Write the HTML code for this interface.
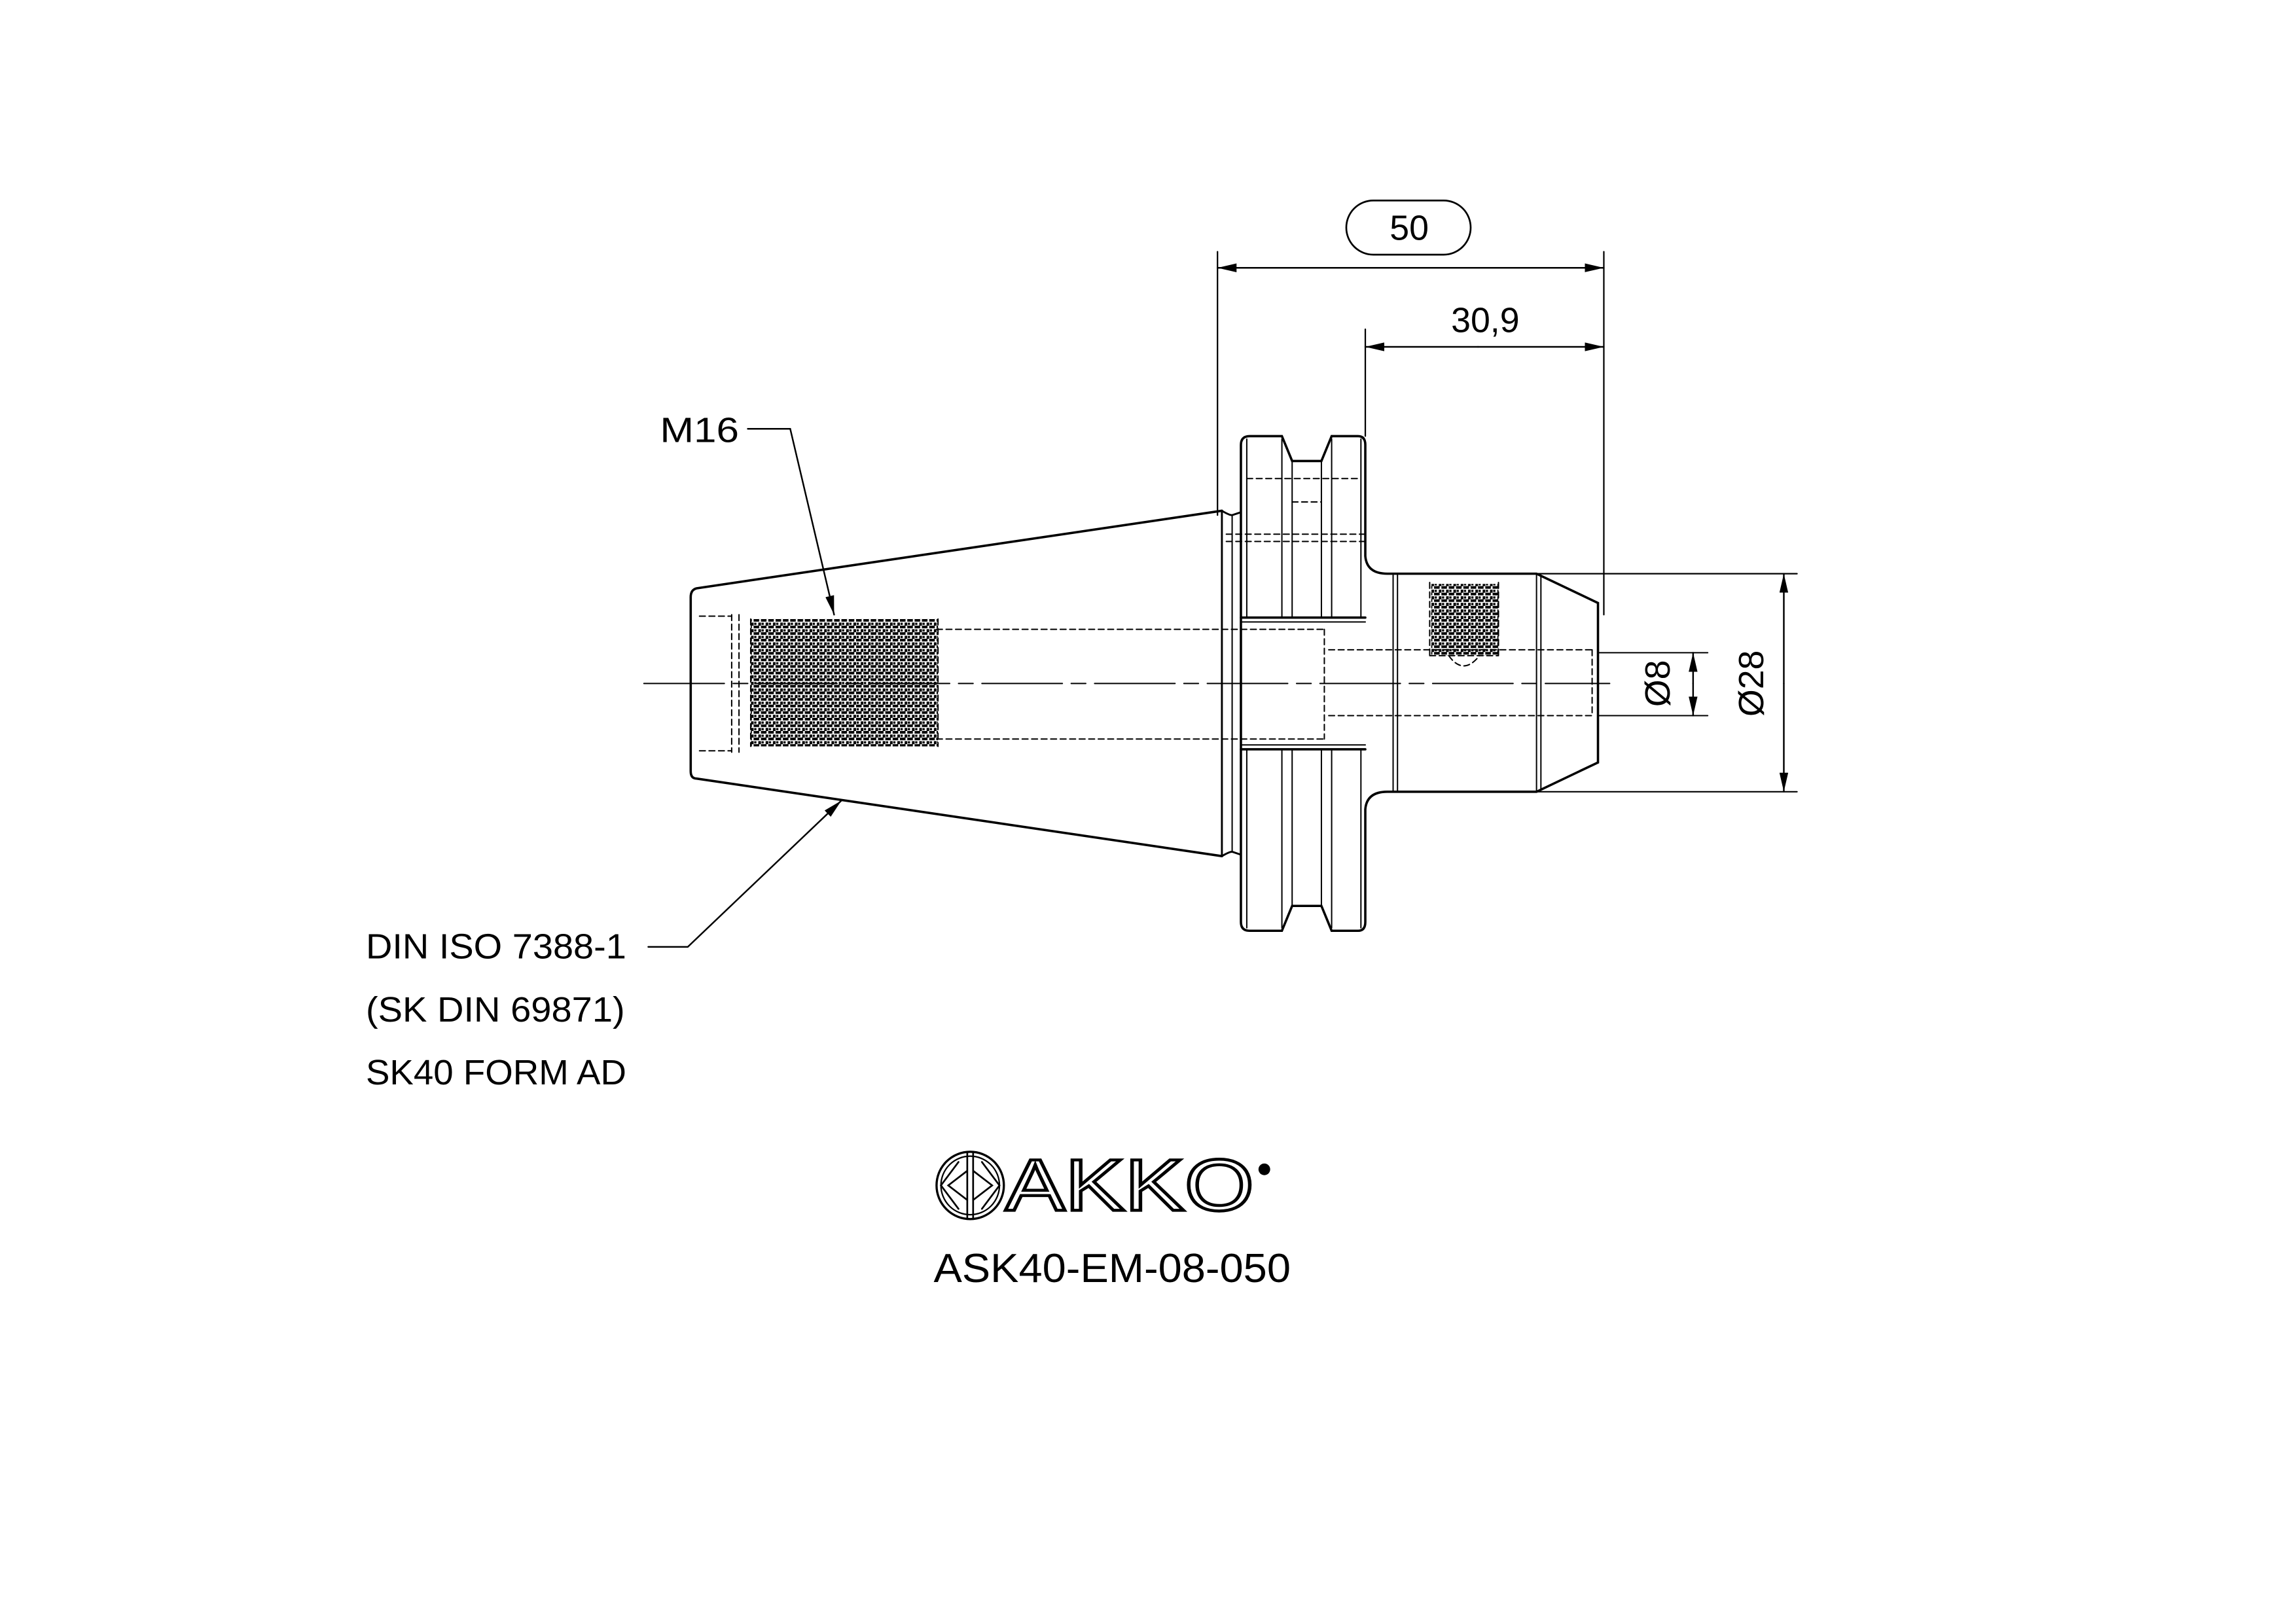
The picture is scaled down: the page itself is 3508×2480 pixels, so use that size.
<!DOCTYPE html>
<html><head><meta charset="utf-8"><style>
html,body{margin:0;padding:0;background:#fff;}
svg{display:block;}
text{font-family:"Liberation Sans",sans-serif;fill:#000;}
</style></head><body>
<svg width="3508" height="2480" viewBox="0 0 1569 1109" preserveAspectRatio="none" xmlns="http://www.w3.org/2000/svg">
<defs>
<pattern id="thr" x="0" y="0" width="5" height="4.5" patternUnits="userSpaceOnUse">
<rect x="0" y="0" width="3.8" height="1.8" fill="#000"/>
<rect x="3.2" y="2.4" width="1.8" height="2.1" fill="#000"/>
<rect x="0.4" y="2.5" width="1.5" height="1.5" fill="#000"/>
</pattern>
<marker id="ar" markerWidth="13" markerHeight="6" refX="13" refY="3" orient="auto" markerUnits="userSpaceOnUse">
<path d="M0,0 L13,3 L0,6 Z" fill="#000"/>
</marker>
</defs>
<rect width="1569" height="1109" fill="#fff"/>
<g fill="none" stroke="#000" stroke-width="1.3" stroke-linecap="round">
<rect x="920" y="137" width="85" height="37" rx="18.5" stroke-width="1.2"/>
<line x1="832" y1="172" x2="832" y2="352" stroke-width="1"/>
<line x1="1096" y1="172" x2="1096" y2="420" stroke-width="1"/>
<line x1="964" y1="183" x2="832" y2="183" stroke-width="1.1" marker-end="url(#ar)"/>
<line x1="964" y1="183" x2="1096" y2="183" stroke-width="1.1" marker-end="url(#ar)"/>
<line x1="933" y1="225" x2="933" y2="298" stroke-width="1"/>
<path d="M835,349 L476,402 Q472,403 472,408 L472,527 Q472,532 476,532 L835,585" stroke-width="1.6"/>
<line x1="835" y1="349" x2="835" y2="585" stroke-width="1.3"/>
<path d="M835,349 Q840,352 842,352 L848,350" />
<path d="M835,585 Q840,582 842,582 L848,584" />
<line x1="842" y1="352" x2="842" y2="582" stroke-width="0.9"/>
<path d="M848,304 Q848,298 854,298 L876,298 L883,315 L903,315 L910,298 L928,298 Q933,298 933,304 L933,380 Q934,392 948,392 L1050,392 L1092,412 L1092,521 L1050,541 L948,541 Q934,541 933,553 L933,630 Q933,636 928,636 L910,636 L903,619 L883,619 L876,636 L854,636 Q848,636 848,630 Z" stroke-width="1.6"/>
<g stroke-width="0.9">
<line x1="852" y1="300" x2="852" y2="422"/><line x1="852" y1="512" x2="852" y2="634"/>
<line x1="876" y1="300" x2="876" y2="422"/><line x1="876" y1="512" x2="876" y2="634"/>
<line x1="883" y1="315" x2="883" y2="422"/><line x1="883" y1="512" x2="883" y2="619"/>
<line x1="903" y1="315" x2="903" y2="422"/><line x1="903" y1="512" x2="903" y2="619"/>
<line x1="910" y1="300" x2="910" y2="422"/><line x1="910" y1="512" x2="910" y2="634"/>
<line x1="930" y1="300" x2="930" y2="422"/><line x1="930" y1="512" x2="930" y2="634"/>
<line x1="952" y1="393" x2="952" y2="540"/>
<line x1="955" y1="393" x2="955" y2="540"/>
<line x1="1050" y1="392" x2="1050" y2="541"/>
<line x1="1053" y1="393" x2="1053" y2="540"/>
</g>
<line x1="848" y1="422" x2="933" y2="422" stroke-width="1.6"/>
<line x1="848" y1="425" x2="933" y2="425" stroke-width="0.9"/>
<line x1="848" y1="512" x2="933" y2="512" stroke-width="1.6"/>
<line x1="848" y1="509" x2="933" y2="509" stroke-width="0.9"/>
<g stroke-width="0.9" stroke-dasharray="4,2.5">
<line x1="852" y1="327" x2="930" y2="327"/>
<line x1="883" y1="343" x2="903" y2="343"/>
<line x1="838" y1="365" x2="933" y2="365"/>
<line x1="838" y1="370" x2="933" y2="370"/>
<line x1="640" y1="430" x2="905" y2="430"/>
<line x1="640" y1="505" x2="905" y2="505"/>
<line x1="905" y1="430" x2="905" y2="505"/>
<line x1="908" y1="444" x2="1090" y2="444"/>
<line x1="908" y1="489" x2="1090" y2="489"/>
<line x1="1088" y1="444" x2="1088" y2="489"/>
<line x1="478" y1="421" x2="500" y2="421"/>
<line x1="478" y1="513" x2="500" y2="513"/>
<line x1="500" y1="420" x2="500" y2="514"/>
<line x1="505" y1="420" x2="505" y2="514"/>
<line x1="513" y1="423" x2="513" y2="510"/>
<line x1="641" y1="423" x2="641" y2="510"/>
<line x1="977" y1="398" x2="977" y2="448"/>
<line x1="1024" y1="398" x2="1024" y2="448"/>
<line x1="977" y1="448" x2="1024" y2="448"/>
<path d="M990,448 Q1000,462 1011,448"/>
</g>
<rect x="513" y="423" width="128" height="87" fill="url(#thr)" stroke="none"/>
<rect x="978" y="399" width="46" height="49" fill="url(#thr)" stroke="none"/>
<line x1="440" y1="467" x2="1100" y2="467" stroke-width="0.9" stroke-dasharray="55,6,10,6"/>
<line x1="1092" y1="446" x2="1167" y2="446" stroke-width="0.9"/>
<line x1="1092" y1="489" x2="1167" y2="489" stroke-width="0.9"/>
<line x1="1157" y1="467" x2="1157" y2="446" stroke-width="1.1" marker-end="url(#ar)"/>
<line x1="1157" y1="467" x2="1157" y2="489" stroke-width="1.1" marker-end="url(#ar)"/>
<line x1="1050" y1="392" x2="1228" y2="392" stroke-width="1"/>
<line x1="1050" y1="541" x2="1228" y2="541" stroke-width="1"/>
<line x1="1219" y1="467" x2="1219" y2="392" stroke-width="1.1" marker-end="url(#ar)"/>
<line x1="1219" y1="467" x2="1219" y2="541" stroke-width="1.1" marker-end="url(#ar)"/>
<line x1="1010" y1="237" x2="933" y2="237" stroke-width="1.1" marker-end="url(#ar)"/>
<line x1="1010" y1="237" x2="1096" y2="237" stroke-width="1.1" marker-end="url(#ar)"/>
<polyline points="511,293 540,293 570,420" stroke-width="1.1" marker-end="url(#ar)"/>
<polyline points="443,647 470,647 575,547" stroke-width="1.1" marker-end="url(#ar)"/>
<circle cx="663" cy="810" r="23" stroke-width="1.5"/>
<circle cx="663" cy="810" r="20" stroke-width="1"/>
<path d="M661,787 L661,833 M665,787 L665,833 M661,800 L648,810 L661,820 M665,800 L678,810 L665,820 M655,794 L643,810 L655,826 M671,794 L683,810 L671,826" stroke-width="1.2"/>
</g>
<g font-size="24">
<text x="963" y="164" text-anchor="middle">50</text>
<text x="1015" y="227" text-anchor="middle">30,9</text>
<text x="451" y="302" textLength="54" lengthAdjust="spacingAndGlyphs">M16</text>
<text x="250" y="655" textLength="178" lengthAdjust="spacingAndGlyphs">DIN ISO 7388-1</text>
<text x="250" y="698" textLength="177" lengthAdjust="spacingAndGlyphs">(SK DIN 69871)</text>
<text x="250" y="741" textLength="178" lengthAdjust="spacingAndGlyphs">SK40 FORM AD</text>
<text transform="translate(1141,467) rotate(-90)" text-anchor="middle">Ø8</text>
<text transform="translate(1205,467) rotate(-90)" text-anchor="middle">Ø28</text>
<text x="638" y="876" font-size="28" textLength="244" lengthAdjust="spacingAndGlyphs">ASK40-EM-08-050</text>
</g>
<text x="687" y="827" font-size="50" textLength="170" lengthAdjust="spacingAndGlyphs" style="fill:#fff;stroke:#000;stroke-width:2">AKKO</text>
<circle cx="864" cy="799" r="4" fill="#000"/>
</svg>
</body></html>
